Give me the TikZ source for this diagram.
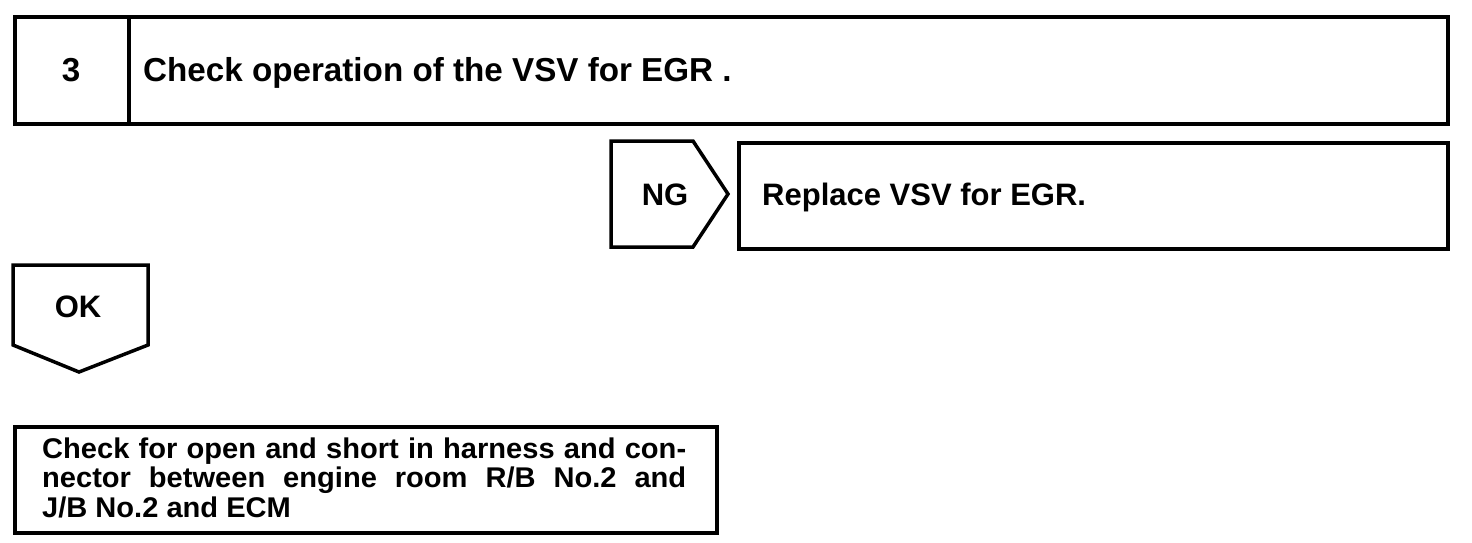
\documentclass[tikz,border=0pt]{standalone}
\usepackage{fontspec}
\setmainfont{Liberation Sans}
\newfontfamily\widesans{Liberation Sans}[FakeStretch=1.02]
\begin{document}
\begin{tikzpicture}[x=1pt,y=-1pt,
  box/.style={draw,line width=3.5pt,inner sep=0pt,anchor=north west},
  shp/.style={draw,line width=3.5pt,line join=miter},
  lab/.style={inner sep=0pt,font=\fontsize{33.2}{36}\selectfont\bfseries},
  sub/.style={inner sep=0pt,font=\fontsize{31}{34}\selectfont\bfseries},
  txt/.style={inner sep=0pt,anchor=base west,font=\widesans\fontsize{28.5}{29.5}\selectfont\bfseries}]
\useasboundingbox (0,0) rectangle (1472,542);
% top step box
\node[box,minimum width=114pt,minimum height=107pt] (num) at (13,15) {};
\node[box,minimum width=1319pt,minimum height=107pt] (title) at (127,15) {};
\node[lab,anchor=base] (numt) at (71,81) {3};
\node[lab,anchor=base west] (titlet) at (143,81) {Check operation of the VSV for EGR .};
% NG branch
\draw[shp] (611,141) -- (693,141) -- (728,194) -- (693,247) -- (611,247) -- cycle;
\node[sub,anchor=base] (ng) at (665,205) {NG};
\node[box,minimum width=709pt,minimum height=106pt] (rep) at (737,141) {};
\node[sub,anchor=base west] (rept) at (762,205) {Replace VSV for EGR.};
% OK branch
\draw[shp] (13,265) -- (148,265) -- (148,345) -- (79,372) -- (13,345) -- cycle;
\node[sub,anchor=base] (ok) at (78,317) {OK};
% bottom box
\node[box,minimum width=702pt,minimum height=106pt] (chk) at (13,425) {};
\node[txt] (l1) at (42,458) {\makebox[644pt][s]{Check for open and short in harness and con-}};
\node[txt] (l2) at (42,487.5) {\makebox[644pt][s]{nector between engine room R/B No.2 and}};
\node[txt] (l3) at (42,517) {J/B No.2 and ECM};
\end{tikzpicture}
\end{document}
